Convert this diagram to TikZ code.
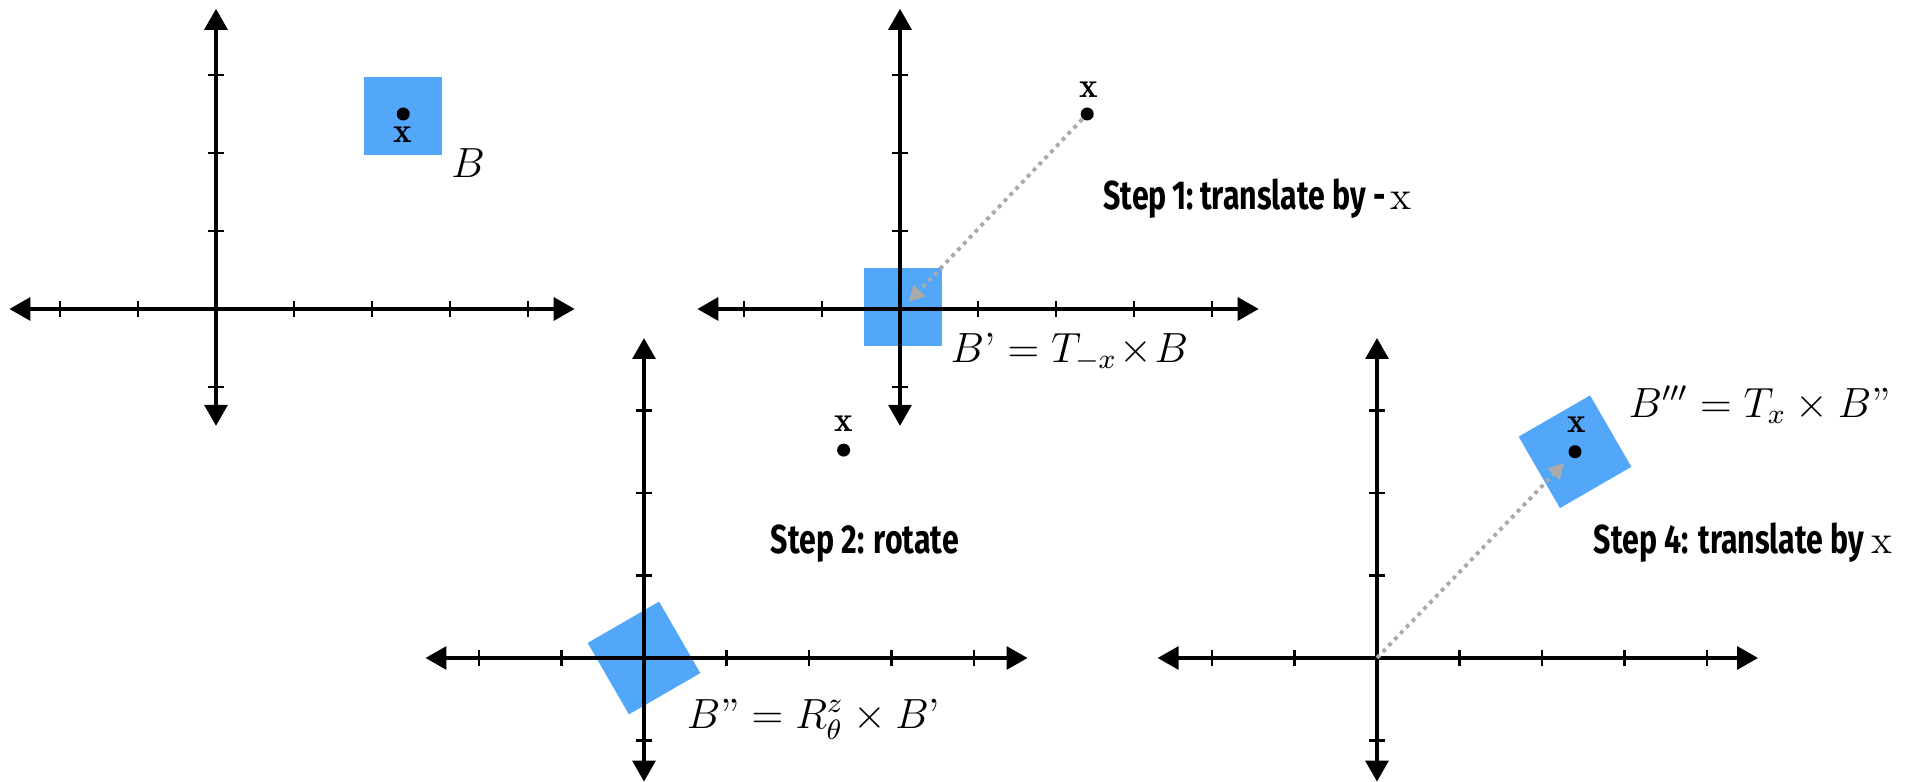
\documentclass[tikz,border=0pt]{standalone}
\usepackage{fontspec}
\usepackage{amsmath}
\usetikzlibrary{arrows.meta,positioning}
\newfontfamily\stepfont[FakeStretch=0.75]{Fira Sans}
\definecolor{boxblue}{RGB}{83,167,248}
\definecolor{movegray}{RGB}{170,170,170}
\newcommand{\bigx}{{\fontsize{11.5}{14}\selectfont$\mathrm{x}$}}

\begin{document}
\begin{tikzpicture}[
  axis/.style={line width=1.3pt, {Triangle[length=6pt,width=6.4pt]}-{Triangle[length=6pt,width=6.4pt]}},
  tickmark/.style={line width=0.6pt},
  box/.style={fill=boxblue},
  pt/.style={circle, fill=black, inner sep=0pt, minimum size=3.7pt},
  ptlabel/.style={inner sep=0pt, font=\fontsize{10}{12}\selectfont},
  move/.style={movegray, line width=1.1pt, dash pattern=on 1.1pt off 1.3pt, -{Triangle[length=4.5pt,width=4.5pt]}},
  eq/.style={anchor=base west, inner sep=0pt, font=\fontsize{12}{14}\selectfont},
  steptext/.style={anchor=base west, inner sep=0pt, font=\stepfont\bfseries\fontsize{11.5}{13}\selectfont},
]
\useasboundingbox (0,0) rectangle (19.13,7.82);
  % awal
  \begin{scope}[shift={(2.16,4.73)}, scale=0.78]
  \fill[box] (1.9,1.98) rectangle (2.9,2.98);
  \draw[axis] (-2.65,0) -- (4.6,0);
  \draw[axis] (0,-1.5) -- (0,3.85);
  \foreach \t in {-2,-1,1,2,3,4} \draw[tickmark] (\t,-0.1) -- (\t,0.1);
  \foreach \t in {-1,1,2,3} \draw[tickmark] (-0.1,\t) -- (0.1,\t);
  \node[pt] (pt1) at (2.4,2.5) {};
  \node[ptlabel] (lbl1) at (2.4,2.24) {$\mathbf{x}$};
  \node[eq] (lblB) at (3.01,1.69) {$B$};
  \end{scope}
  % langkah 1
  \begin{scope}[shift={(9.00,4.73)}, scale=0.78]
  \fill[box] (-0.46,-0.48) rectangle (0.54,0.52);
  \draw[axis] (-2.6,0) -- (4.6,0);
  \draw[axis] (0,-1.5) -- (0,3.85);
  \foreach \t in {-2,-1,1,2,3,4} \draw[tickmark] (\t,-0.1) -- (\t,0.1);
  \foreach \t in {-1,1,2,3} \draw[tickmark] (-0.1,\t) -- (0.1,\t);
  \node[pt] (pt2) at (2.4,2.5) {};
  \node[ptlabel] (lbl2) at (2.42,2.81) {$\mathbf{x}$};
  \coordinate (o2) at (0.11,0.09);
  \draw[move] (pt2) -- (o2);
  \node[eq] (eq1) at (0.64,-0.68) {$B\text{’} = T_{-x}\!\times\! B$};
  \node[steptext] (step1) at (2.6,1.28) {Step\hspace{0.15em}1:\hspace{0.15em}translate by -\hspace{1.5pt}\bigx};
  \end{scope}
  % langkah 2
  \begin{scope}[shift={(6.44,1.24)}, scale=0.825]
  \fill[box, rotate=30] (-0.5,-0.5) rectangle (0.5,0.5);
  \draw[axis] (-2.65,0) -- (4.65,0);
  \draw[axis] (0,-1.5) -- (0,3.88);
  \foreach \t in {-2,-1,1,2,3,4} \draw[tickmark] (\t,-0.1) -- (\t,0.1);
  \foreach \t in {-1,1,2,3} \draw[tickmark] (-0.1,\t) -- (0.1,\t);
  \node[pt] (pt3) at (2.42,2.52) {};
  \node[ptlabel] (lbl3) at (2.42,2.84) {$\mathbf{x}$};
  \node[eq] (eq2) at (0.51,-0.85) {$B\text{”} = R_\theta^z \times B\text{’}$};
  \node[steptext] (step2) at (1.53,1.27) {Step 2: rotate};
  \end{scope}
  % langkah 4
  \begin{scope}[shift={(13.77,1.24)}, scale=0.825]
  \fill[box, shift={(2.4,2.5)}, rotate=30] (-0.5,-0.5) rectangle (0.5,0.5);
  \draw[axis] (-2.66,0) -- (4.62,0);
  \draw[axis] (0,-1.5) -- (0,3.88);
  \foreach \t in {-2,-1,1,2,3,4} \draw[tickmark] (\t,-0.1) -- (\t,0.1);
  \foreach \t in {-1,1,2,3} \draw[tickmark] (-0.1,\t) -- (0.1,\t);
  \node[pt] (pt4) at (2.4,2.5) {};
  \node[ptlabel] (lbl4) at (2.42,2.83) {$\mathbf{x}$};
  \coordinate (o4) at (0,0);
  \draw[move, shorten >=2.3pt] (o4) -- (pt4);
  \node[eq] (eq3) at (3.04,2.92) {$B''' = T_x \times B\text{”}$};
  \node[steptext] (step4) at (2.62,1.27) {Step 4: translate by \bigx};
  \end{scope}
\end{tikzpicture}
\end{document}
